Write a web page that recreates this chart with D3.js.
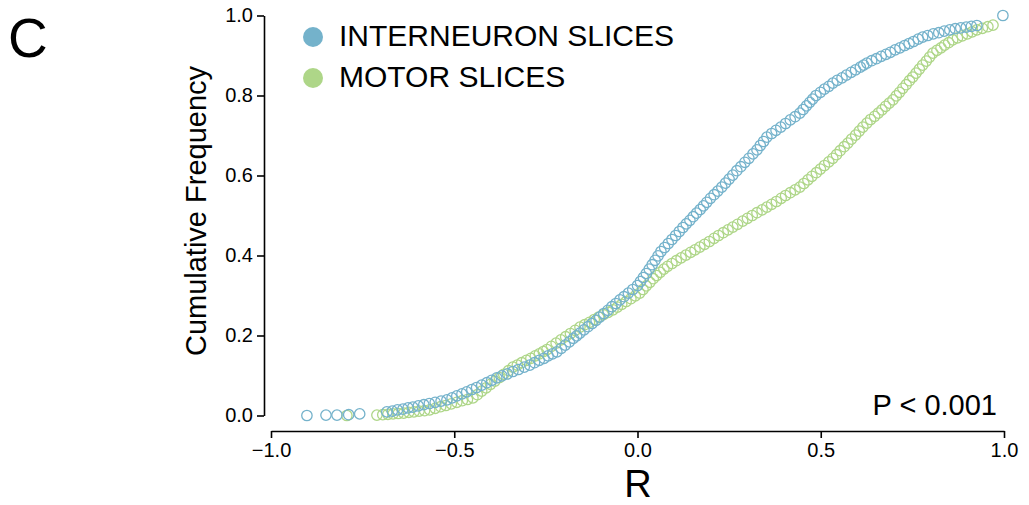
<!DOCTYPE html>
<html>
<head>
<meta charset="utf-8">
<script src="https://cdn.jsdelivr.net/npm/d3@7"></script>
<style>
  body { margin: 0; background: #fff; }
  svg { display: block; font-family: 'Liberation Sans', Arial, sans-serif; }
  .axis path, .axis line { stroke: #000; stroke-width: 1.6; }
  .axis text { font-size: 20px; fill: #000; font-family: 'Liberation Sans', Arial, sans-serif; }
</style>
</head>
<body>
<svg id="chart" width="1029" height="505"></svg>
<script>
// DATA: [R, cumulative frequency]
const interneuronSlices = [
  [-0.902, 0.000], [-0.850, 0.001], [-0.820, 0.001], [-0.788, 0.002], [-0.758, 0.004],
  [-0.684, 0.009], [-0.669, 0.011], [-0.655, 0.014], [-0.640, 0.016], [-0.626, 0.019], [-0.613, 0.021],
  [-0.598, 0.024], [-0.583, 0.027], [-0.568, 0.030], [-0.552, 0.033], [-0.536, 0.036], [-0.520, 0.039],
  [-0.506, 0.044], [-0.493, 0.049], [-0.479, 0.054], [-0.466, 0.059],
  [-0.452, 0.065], [-0.439, 0.070], [-0.425, 0.076], [-0.411, 0.082], [-0.398, 0.088], [-0.384, 0.094],
  [-0.370, 0.099], [-0.355, 0.104], [-0.340, 0.110], [-0.325, 0.115], [-0.309, 0.121], [-0.294, 0.126],
  [-0.281, 0.132], [-0.268, 0.138], [-0.255, 0.143], [-0.244, 0.149], [-0.232, 0.154], [-0.220, 0.159],
  [-0.208, 0.168], [-0.197, 0.176], [-0.186, 0.184], [-0.175, 0.193], [-0.166, 0.199], [-0.157, 0.206],
  [-0.146, 0.214], [-0.135, 0.222], [-0.124, 0.230], [-0.113, 0.238], [-0.103, 0.246],
  [-0.092, 0.255], [-0.081, 0.263], [-0.070, 0.272], [-0.059, 0.280], [-0.048, 0.289],
  [-0.037, 0.297], [-0.025, 0.306], [-0.013, 0.315], [0.000, 0.325],
  [0.008, 0.335], [0.016, 0.345], [0.024, 0.355], [0.032, 0.366], [0.040, 0.377], [0.048, 0.388], [0.056, 0.399], [0.064, 0.410],
  [0.074, 0.420], [0.084, 0.430], [0.094, 0.440], [0.104, 0.450], [0.114, 0.460], [0.124, 0.470],
  [0.133, 0.479], [0.143, 0.488], [0.152, 0.497], [0.161, 0.506], [0.171, 0.515], [0.180, 0.524], [0.189, 0.533],
  [0.199, 0.543], [0.209, 0.552], [0.219, 0.561], [0.230, 0.571], [0.240, 0.581], [0.250, 0.591], [0.260, 0.601],
  [0.271, 0.612], [0.282, 0.622], [0.293, 0.633], [0.304, 0.643], [0.315, 0.654], [0.326, 0.664],
  [0.335, 0.675], [0.344, 0.685], [0.353, 0.696],
  [0.366, 0.705], [0.378, 0.713], [0.391, 0.721], [0.404, 0.730], [0.417, 0.739], [0.430, 0.747], [0.443, 0.756],
  [0.452, 0.765], [0.461, 0.774], [0.470, 0.783], [0.478, 0.791], [0.487, 0.800],
  [0.499, 0.808], [0.510, 0.816], [0.522, 0.823], [0.533, 0.831],
  [0.545, 0.838], [0.558, 0.844], [0.570, 0.851], [0.583, 0.858], [0.595, 0.864], [0.608, 0.871], [0.617, 0.876], [0.626, 0.881],
  [0.639, 0.887], [0.652, 0.892], [0.665, 0.898], [0.678, 0.903], [0.690, 0.908], [0.703, 0.914], [0.716, 0.919],
  [0.729, 0.925], [0.741, 0.930], [0.753, 0.935], [0.766, 0.941], [0.778, 0.946],
  [0.792, 0.950], [0.807, 0.954], [0.822, 0.957], [0.837, 0.961], [0.852, 0.964],
  [0.867, 0.967], [0.882, 0.969], [0.897, 0.971], [0.911, 0.973], [0.926, 0.975],
  [0.997, 1.000]
];

const motorSlices = [
  [-0.793, 0.000], [-0.711, 0.001],
  [-0.695, 0.002], [-0.681, 0.003], [-0.667, 0.004], [-0.653, 0.005], [-0.638, 0.006], [-0.624, 0.008], [-0.610, 0.009], [-0.596, 0.011], [-0.581, 0.012], [-0.567, 0.014],
  [-0.552, 0.018], [-0.537, 0.022], [-0.523, 0.025], [-0.508, 0.029], [-0.493, 0.033], [-0.478, 0.037], [-0.464, 0.040], [-0.449, 0.044],
  [-0.437, 0.052], [-0.425, 0.061], [-0.413, 0.069], [-0.401, 0.078], [-0.389, 0.086], [-0.377, 0.095], [-0.365, 0.103], [-0.352, 0.112], [-0.340, 0.121],
  [-0.328, 0.126], [-0.316, 0.132], [-0.303, 0.138], [-0.291, 0.143], [-0.279, 0.149], [-0.268, 0.154], [-0.257, 0.160], [-0.247, 0.165],
  [-0.235, 0.173], [-0.222, 0.181], [-0.209, 0.189], [-0.196, 0.197], [-0.183, 0.205], [-0.170, 0.213], [-0.157, 0.221],
  [-0.144, 0.227], [-0.131, 0.233], [-0.118, 0.240], [-0.106, 0.246], [-0.093, 0.252], [-0.080, 0.258], [-0.067, 0.264],
  [-0.055, 0.271], [-0.043, 0.278], [-0.031, 0.285], [-0.018, 0.292], [-0.006, 0.299], [0.006, 0.306],
  [0.015, 0.315], [0.024, 0.324], [0.034, 0.333], [0.043, 0.342], [0.052, 0.350], [0.062, 0.358], [0.072, 0.366], [0.082, 0.373],
  [0.094, 0.380], [0.106, 0.387], [0.119, 0.394], [0.132, 0.401], [0.145, 0.408], [0.157, 0.414], [0.170, 0.421],
  [0.183, 0.428], [0.196, 0.435], [0.209, 0.443], [0.221, 0.450], [0.234, 0.457], [0.247, 0.464], [0.260, 0.471],
  [0.273, 0.478], [0.287, 0.486], [0.300, 0.493], [0.313, 0.500], [0.326, 0.507], [0.340, 0.514], [0.353, 0.521],
  [0.366, 0.528], [0.379, 0.535], [0.392, 0.543], [0.404, 0.550], [0.417, 0.557], [0.430, 0.564], [0.443, 0.571],
  [0.454, 0.580], [0.465, 0.589], [0.476, 0.598], [0.488, 0.607], [0.499, 0.616], [0.510, 0.625], [0.522, 0.634], [0.533, 0.643],
  [0.543, 0.652], [0.553, 0.662], [0.564, 0.672], [0.574, 0.681], [0.584, 0.691], [0.595, 0.701], [0.605, 0.711], [0.615, 0.721], [0.626, 0.731],
  [0.636, 0.740], [0.647, 0.748], [0.657, 0.756], [0.667, 0.764], [0.677, 0.773], [0.687, 0.781], [0.697, 0.789],
  [0.706, 0.799], [0.715, 0.808], [0.724, 0.818], [0.733, 0.827], [0.742, 0.837], [0.751, 0.846],
  [0.760, 0.856], [0.769, 0.866], [0.778, 0.876], [0.788, 0.886], [0.797, 0.896], [0.806, 0.906],
  [0.817, 0.913], [0.828, 0.919], [0.838, 0.926], [0.849, 0.932], [0.860, 0.939],
  [0.873, 0.944], [0.886, 0.949], [0.900, 0.954], [0.913, 0.959], [0.926, 0.964],
  [0.941, 0.968], [0.956, 0.972], [0.970, 0.976]
];

const xTicks = [-1, -0.5, 0, 0.5, 1];
const yTicks = [0, 0.2, 0.4, 0.6, 0.8, 1];
const seriesLabels = ['INTERNEURON SLICES', 'MOTOR SLICES'];
const pLabel = 'P < 0.001';

// SETUP
let svg = d3.select('svg'),
  x = d3.scaleLinear().domain([-1, 1]).range([271, 1004]),
  y = d3.scaleLinear().domain([0, 1]).range([415.5, 15.5]),
  colors = ['#74b2cb', '#aed688'];

svg.append('rect').attr('width', 1029).attr('height', 505).attr('fill', '#fff');

// AXES
svg.append('g')
  .attr('class', 'axis axis--x')
  .attr('transform', 'translate(0,431)')
  .call(d3.axisBottom(x).tickValues(xTicks).tickFormat(d3.format('.1f')).tickSizeInner(7).tickSizeOuter(0).tickPadding(5));

svg.append('g')
  .attr('class', 'axis axis--y')
  .attr('transform', 'translate(264,0)')
  .call(d3.axisLeft(y).tickValues(yTicks).tickFormat(d3.format('.1f')).tickSizeInner(7).tickSizeOuter(0).tickPadding(4));

// POINTS (motor first, interneuron on top)
[motorSlices, interneuronSlices].forEach((series, k) => {
  svg.append('g')
    .selectAll('circle')
    .data(series)
    .enter()
    .append('circle')
    .attr('cx', d => x(d[0]))
    .attr('cy', d => y(d[1]))
    .attr('r', 5.2)
    .attr('fill', 'none')
    .attr('stroke', colors[1 - k])
    .attr('stroke-width', 1.3);
});

// LEGEND
let legend = svg.append('g').selectAll('g').data(seriesLabels).enter().append('g')
  .attr('transform', (d, i) => 'translate(313,' + (37 + i * 41) + ')');
legend.append('circle').attr('r', 10).attr('fill', (d, i) => colors[i]);
legend.append('text')
  .attr('x', 26)
  .attr('y', 9)
  .style('font-size', '30px')
  .text(d => d);

// LABELS
svg.append('text')
  .attr('x', 997).attr('y', 415)
  .attr('text-anchor', 'end')
  .style('font-size', '29px')
  .text(pLabel);

svg.append('text')
  .attr('transform', 'translate(206,211) rotate(-90)')
  .attr('text-anchor', 'middle')
  .style('font-size', '29px')
  .text('Cumulative Frequency');

svg.append('text')
  .attr('x', 638).attr('y', 496.5)
  .attr('text-anchor', 'middle')
  .style('font-size', '38px')
  .text('R');

svg.append('text')
  .attr('x', 8).attr('y', 57)
  .style('font-size', '55px')
  .text('C');
</script>
</body>
</html>
